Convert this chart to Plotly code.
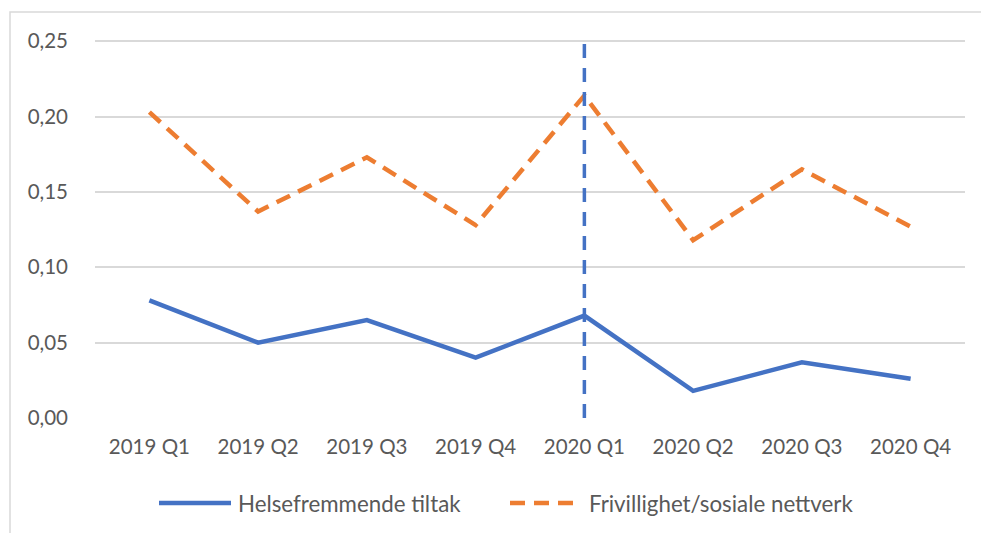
import plotly.graph_objects as go

categories = ["2019 Q1", "2019 Q2", "2019 Q3", "2019 Q4", "2020 Q1", "2020 Q2", "2020 Q3", "2020 Q4"]
helse = [0.078, 0.050, 0.065, 0.040, 0.068, 0.018, 0.037, 0.026]
frivillighet = [0.203, 0.137, 0.173, 0.128, 0.214, 0.118, 0.165, 0.127]
y_ticks = [0.0, 0.05, 0.10, 0.15, 0.20, 0.25]
y_tick_labels = ["0,00", "0,05", "0,10", "0,15", "0,20", "0,25"]
series_names = ["Helsefremmende tiltak", "Frivillighet/sosiale nettverk"]
marker_category = "2020 Q1"
marker_span = [0.0, 0.2535]

BLUE = "#4472C4"
ORANGE = "#ED7D31"
TXT = "#595959"
GRID = "#D9D9D9"
FONT = "Lato"
FS = 20.5
LEG_FS = 22.3

W, H = 981, 533
L, R, T, B = 95, 16, 36, 115
pw, ph = W - L - R, H - T - B

def px(x):
    return (x - L) / pw

def py(y):
    return (H - B - y) / ph

fig = go.Figure()
fig.add_trace(go.Scatter(x=categories, y=helse, mode="lines", name=series_names[0],
                         line=dict(color=BLUE, width=4.5), showlegend=False))
fig.add_trace(go.Scatter(x=categories, y=frivillighet, mode="lines", name=series_names[1],
                         line=dict(color=ORANGE, width=4.5, dash="15px,9px"), showlegend=False))
fig.add_trace(go.Scatter(x=[marker_category, marker_category], y=marker_span, mode="lines",
                         line=dict(color=BLUE, width=3.5, dash="14px,10px"), showlegend=False,
                         hoverinfo="skip"))

shapes = [
    dict(type="rect", xref="paper", yref="paper", x0=px(10), x1=px(995), y0=py(545), y1=py(12),
         line=dict(color=GRID, width=1.5), fillcolor="rgba(0,0,0,0)", layer="below"),
    dict(type="line", xref="paper", yref="paper", x0=px(159), x1=px(231), y0=py(503), y1=py(503),
         line=dict(color=BLUE, width=4.5)),
    dict(type="line", xref="paper", yref="paper", x0=px(510), x1=px(576), y0=py(503), y1=py(503),
         line=dict(color=ORANGE, width=4.5, dash="15px,9px")),
]
annotations = [
    dict(xref="paper", yref="paper", x=px(236), y=py(503), xanchor="left", yanchor="middle",
         text=series_names[0], showarrow=False, font=dict(family=FONT, size=LEG_FS, color=TXT)),
    dict(xref="paper", yref="paper", x=px(587), y=py(503), xanchor="left", yanchor="middle",
         text=series_names[1], showarrow=False, font=dict(family=FONT, size=LEG_FS, color=TXT)),
]

fig.update_layout(
    width=W, height=H,
    margin=dict(l=L, r=R, t=T, b=B),
    paper_bgcolor="white", plot_bgcolor="white",
    font=dict(family=FONT, size=FS, color=TXT),
    showlegend=False,
    shapes=shapes, annotations=annotations,
    xaxis=dict(type="category", categoryorder="array", categoryarray=categories,
               range=[-0.5, len(categories) - 0.5], showgrid=False, zeroline=False,
               showline=False, ticks="", ticklabelstandoff=14,
               tickfont=dict(family=FONT, size=FS, color=TXT)),
    yaxis=dict(range=[0, 0.2535], tickvals=y_ticks, ticktext=y_tick_labels,
               showgrid=True, gridcolor=GRID, gridwidth=1.5, zeroline=False,
               showline=False, ticks="", ticklabelstandoff=26,
               tickfont=dict(family=FONT, size=FS, color=TXT)),
)

fig.write_html("out.html", config={"displayModeBar": False},
               post_script="document.body.style.margin='0';document.body.style.overflow='hidden';")
